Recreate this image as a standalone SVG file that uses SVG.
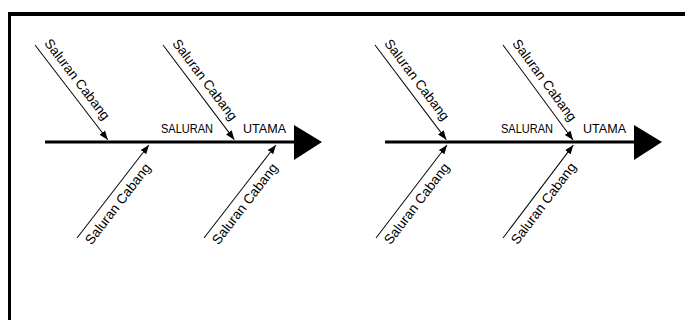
<svg xmlns="http://www.w3.org/2000/svg" width="685" height="320" viewBox="0 0 685 320">
<style>
text{font-family:"Liberation Sans",Arial,sans-serif;fill:#000}
.lbl{font-size:13.5px}
.br{stroke:#000;stroke-width:1;fill:none}
.spine{stroke:#000;stroke-width:3;fill:none}
</style>
<defs>
<marker id="ah" markerUnits="userSpaceOnUse" markerWidth="10" markerHeight="8" refX="9" refY="4" orient="auto">
<path d="M0,0.5 L9,4 L0,7.5 Z" fill="#000"/>
</marker>
</defs>
<rect x="0" y="0" width="685" height="320" fill="#fff"/>
<g id="frame">
<rect x="8" y="12" width="677" height="4" fill="#000"/>
<rect x="8" y="12" width="3" height="308" fill="#000"/>
</g>
<g id="connectors">
<line class="spine" x1="45" y1="142" x2="298" y2="142"/>
<polygon points="294,125 322,142 294,160" fill="#000"/>
<line class="spine" x1="385" y1="142" x2="638" y2="142"/>
<polygon points="634,125 662,142 634,160" fill="#000"/>
</g>
<g id="main-left">
<text class="lbl" x="161" y="133" textLength="52" lengthAdjust="spacingAndGlyphs">SALURAN</text>
<text class="lbl" x="243" y="133" textLength="43" lengthAdjust="spacingAndGlyphs">UTAMA</text>
</g>
<g id="main-right">
<text class="lbl" x="501" y="133" textLength="52" lengthAdjust="spacingAndGlyphs">SALURAN</text>
<text class="lbl" x="583" y="133" textLength="43" lengthAdjust="spacingAndGlyphs">UTAMA</text>
</g>
<g id="left-u1" transform="translate(35,45) rotate(52.5)">
<line class="br" x1="0" y1="0" x2="119.5" y2="0" marker-end="url(#ah)"/>
<text class="lbl" x="4" y="-8" textLength="98" lengthAdjust="spacingAndGlyphs">Saluran Cabang</text>
</g>
<g id="left-u2" transform="translate(163,45) rotate(53)">
<line class="br" x1="0" y1="0" x2="118.5" y2="0" marker-end="url(#ah)"/>
<text class="lbl" x="4" y="-8" textLength="98" lengthAdjust="spacingAndGlyphs">Saluran Cabang</text>
</g>
<g id="left-l1" transform="translate(77,238) rotate(-52.3)">
<line class="br" x1="0" y1="0" x2="117.6" y2="0" marker-end="url(#ah)"/>
<text class="lbl" x="3" y="16" textLength="98" lengthAdjust="spacingAndGlyphs">Saluran Cabang</text>
</g>
<g id="left-l2" transform="translate(204,238) rotate(-52.3)">
<line class="br" x1="0" y1="0" x2="117.6" y2="0" marker-end="url(#ah)"/>
<text class="lbl" x="3" y="16" textLength="98" lengthAdjust="spacingAndGlyphs">Saluran Cabang</text>
</g>
<g id="right-u1" transform="translate(375,45) rotate(53)">
<line class="br" x1="0" y1="0" x2="118.5" y2="0" marker-end="url(#ah)"/>
<text class="lbl" x="4" y="-8" textLength="98" lengthAdjust="spacingAndGlyphs">Saluran Cabang</text>
</g>
<g id="right-u2" transform="translate(503,45) rotate(53.6)">
<line class="br" x1="0" y1="0" x2="118" y2="0" marker-end="url(#ah)"/>
<text class="lbl" x="4" y="-8" textLength="98" lengthAdjust="spacingAndGlyphs">Saluran Cabang</text>
</g>
<g id="right-l1" transform="translate(376,238) rotate(-52.6)">
<line class="br" x1="0" y1="0" x2="117" y2="0" marker-end="url(#ah)"/>
<text class="lbl" x="3" y="16" textLength="98" lengthAdjust="spacingAndGlyphs">Saluran Cabang</text>
</g>
<g id="right-l2" transform="translate(503,238) rotate(-52.9)">
<line class="br" x1="0" y1="0" x2="116.5" y2="0" marker-end="url(#ah)"/>
<text class="lbl" x="3" y="16" textLength="98" lengthAdjust="spacingAndGlyphs">Saluran Cabang</text>
</g>
</svg>
